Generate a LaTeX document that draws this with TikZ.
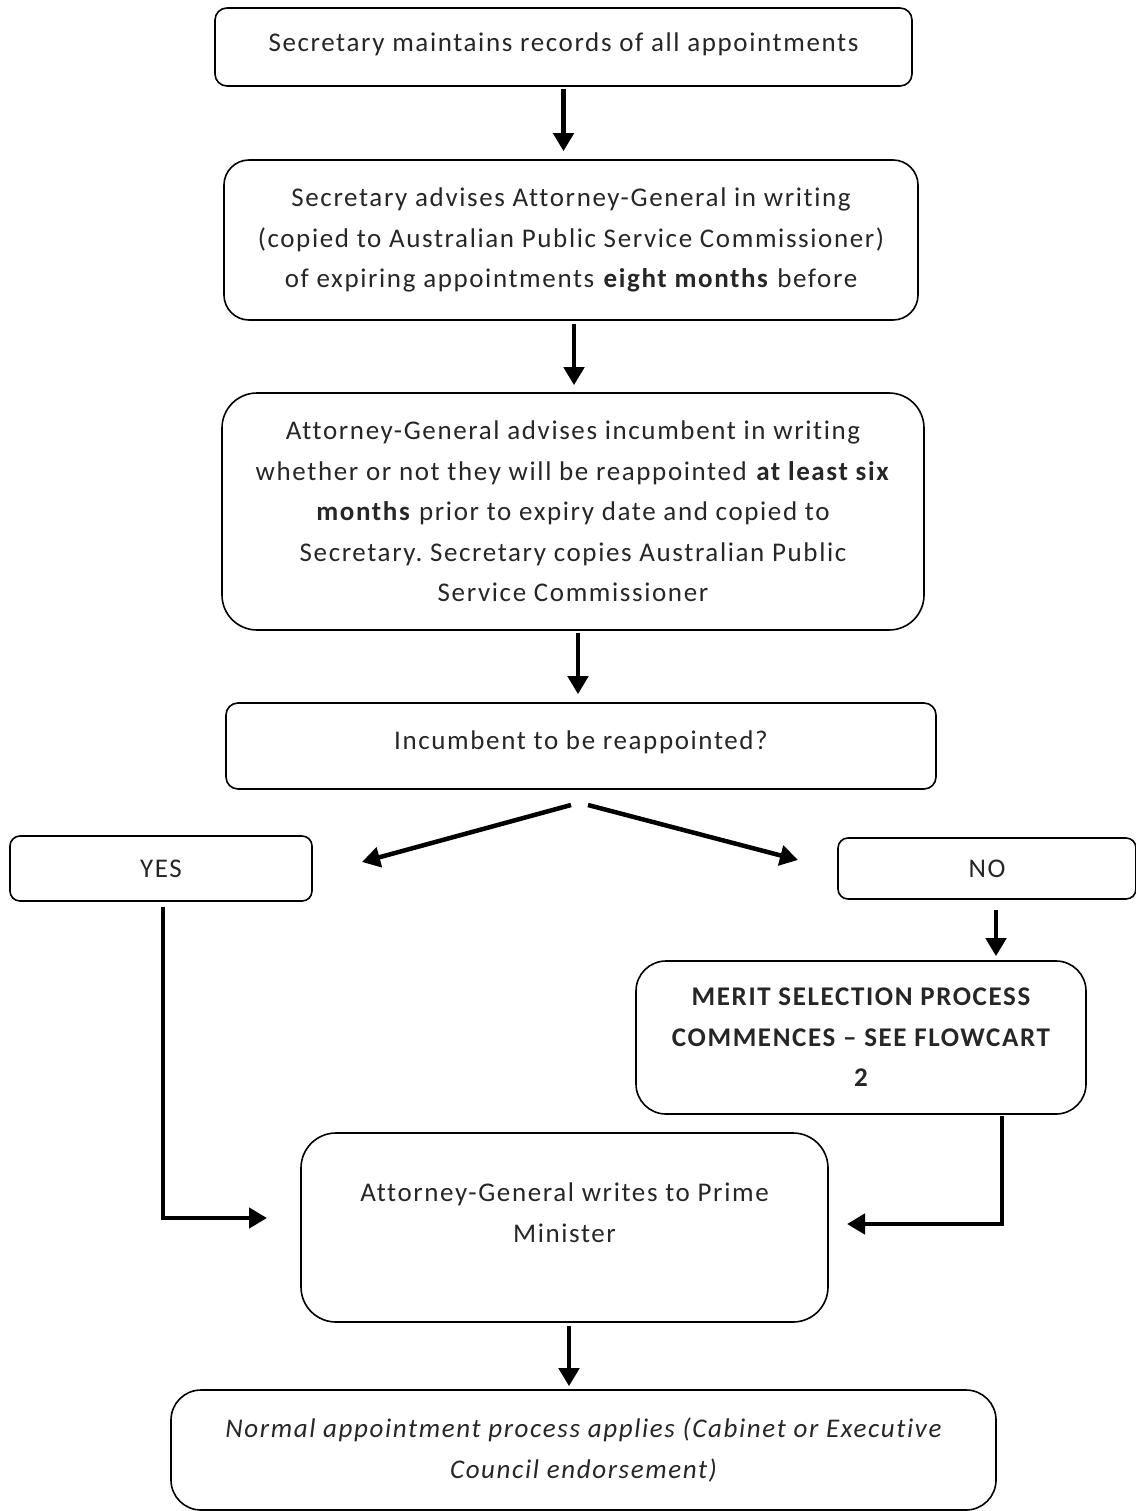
\documentclass[tikz,border=0pt]{standalone}
\usepackage{fontspec}
\setmainfont[Ligatures=NoCommon,LetterSpace=6]{Carlito}
\usetikzlibrary{positioning,arrows.meta}
\tikzset{
  nd/.style={rectangle, draw=black, line width=1.6pt, inner sep=0pt, align=center, text=black!85, font=\fontsize{27}{40.5}\selectfont},
  ar/.style={line width=4.5pt, -{Triangle[length=18pt,width=20pt]}}
}

\begin{document}
\frenchspacing
\begin{tikzpicture}[x=1pt,y=-1pt]
	\useasboundingbox (0,0) rectangle (1135,1511);

	\node[nd, rounded corners=12pt, minimum width=697pt, minimum height=78pt] (records) at (563.5,47) {Secretary maintains records of all appointments\\[-30pt]\mbox{}};
	\node[nd, rounded corners=25pt, minimum width=694pt, minimum height=160pt] (advises) at (571,240) {Secretary advises Attorney-General in writing\\(copied to Australian Public Service Commissioner)\\of expiring appointments \textbf{eight months} before};
	\node[nd, rounded corners=35pt, minimum width=702pt, minimum height=237pt] (incumbent) at (573,511.5) {Attorney-General advises incumbent in writing\\whether or not they will be reappointed \textbf{at least six}\\\textbf{months} prior to expiry date and copied to\\Secretary. Secretary copies Australian Public\\Service Commissioner};
	\node[nd, rounded corners=12pt, minimum width=710pt, minimum height=86pt] (decide) at (581,746) {Incumbent to be reappointed?\\[-28pt]\mbox{}};
	\node[nd, rounded corners=10pt, minimum width=302pt, minimum height=65pt] (yes) at (161,868.5) {YES};
	\node[nd, rounded corners=10pt, minimum width=298pt, minimum height=61pt] (no) at (987,868.5) {NO};
	\node[nd, rounded corners=30pt, minimum width=450pt, minimum height=153pt, font=\fontsize{27}{40.5}\selectfont\bfseries] (merit) at (861,1037.5) {MERIT SELECTION PROCESS\\COMMENCES – SEE FLOWCART\\2};
	\node[nd, rounded corners=35pt, minimum width=527pt, minimum height=189pt] (writes) at (564.5,1227.5) {Attorney-General writes to Prime\\Minister\\[-11pt]\mbox{}};
	\node[nd, rounded corners=30pt, minimum width=825pt, minimum height=120pt, font=\fontsize{27}{40.5}\selectfont\itshape] (normal) at (583.5,1450) {Normal appointment process applies (Cabinet or Executive\\Council endorsement)};

	% free ends of the split and the side arrows
	\coordinate (splitL) at (571,805);
	\coordinate (splitR) at (588,805);
	\coordinate (toYes) at (362,862);
	\coordinate (toNo) at (798,860);
	\coordinate (yesIn) at (267,1218);
	\coordinate (meritIn) at (847,1224);

	\draw[ar, shorten <=2pt, shorten >=8pt] (records.south) -- (records.south |- advises.north);
	\draw[ar, shorten <=3pt, shorten >=7pt] ([xshift=3pt]advises.south) -- ([xshift=1pt]incumbent.north);
	\draw[ar, shorten <=2pt, shorten >=8pt] ([xshift=5pt]incumbent.south) -- ([xshift=-3pt]decide.north);
	\draw[ar] (splitL) -- (toYes);
	\draw[ar] (splitR) -- (toNo);
	\draw[ar, shorten <=10pt, shorten >=4pt] ([xshift=9pt]no.south) -- ([xshift=135pt]merit.north);
	\draw[ar, shorten <=5pt, line join=miter] ([xshift=2pt]yes.south) |- (yesIn);
	\draw[ar, shorten <=1pt, line join=miter] ([xshift=141pt]merit.south) |- (meritIn);
	\draw[ar, shorten <=3pt, shorten >=3pt] ([xshift=4.5pt]writes.south) -- ([xshift=-14.5pt]normal.north);
\end{tikzpicture}
\end{document}
